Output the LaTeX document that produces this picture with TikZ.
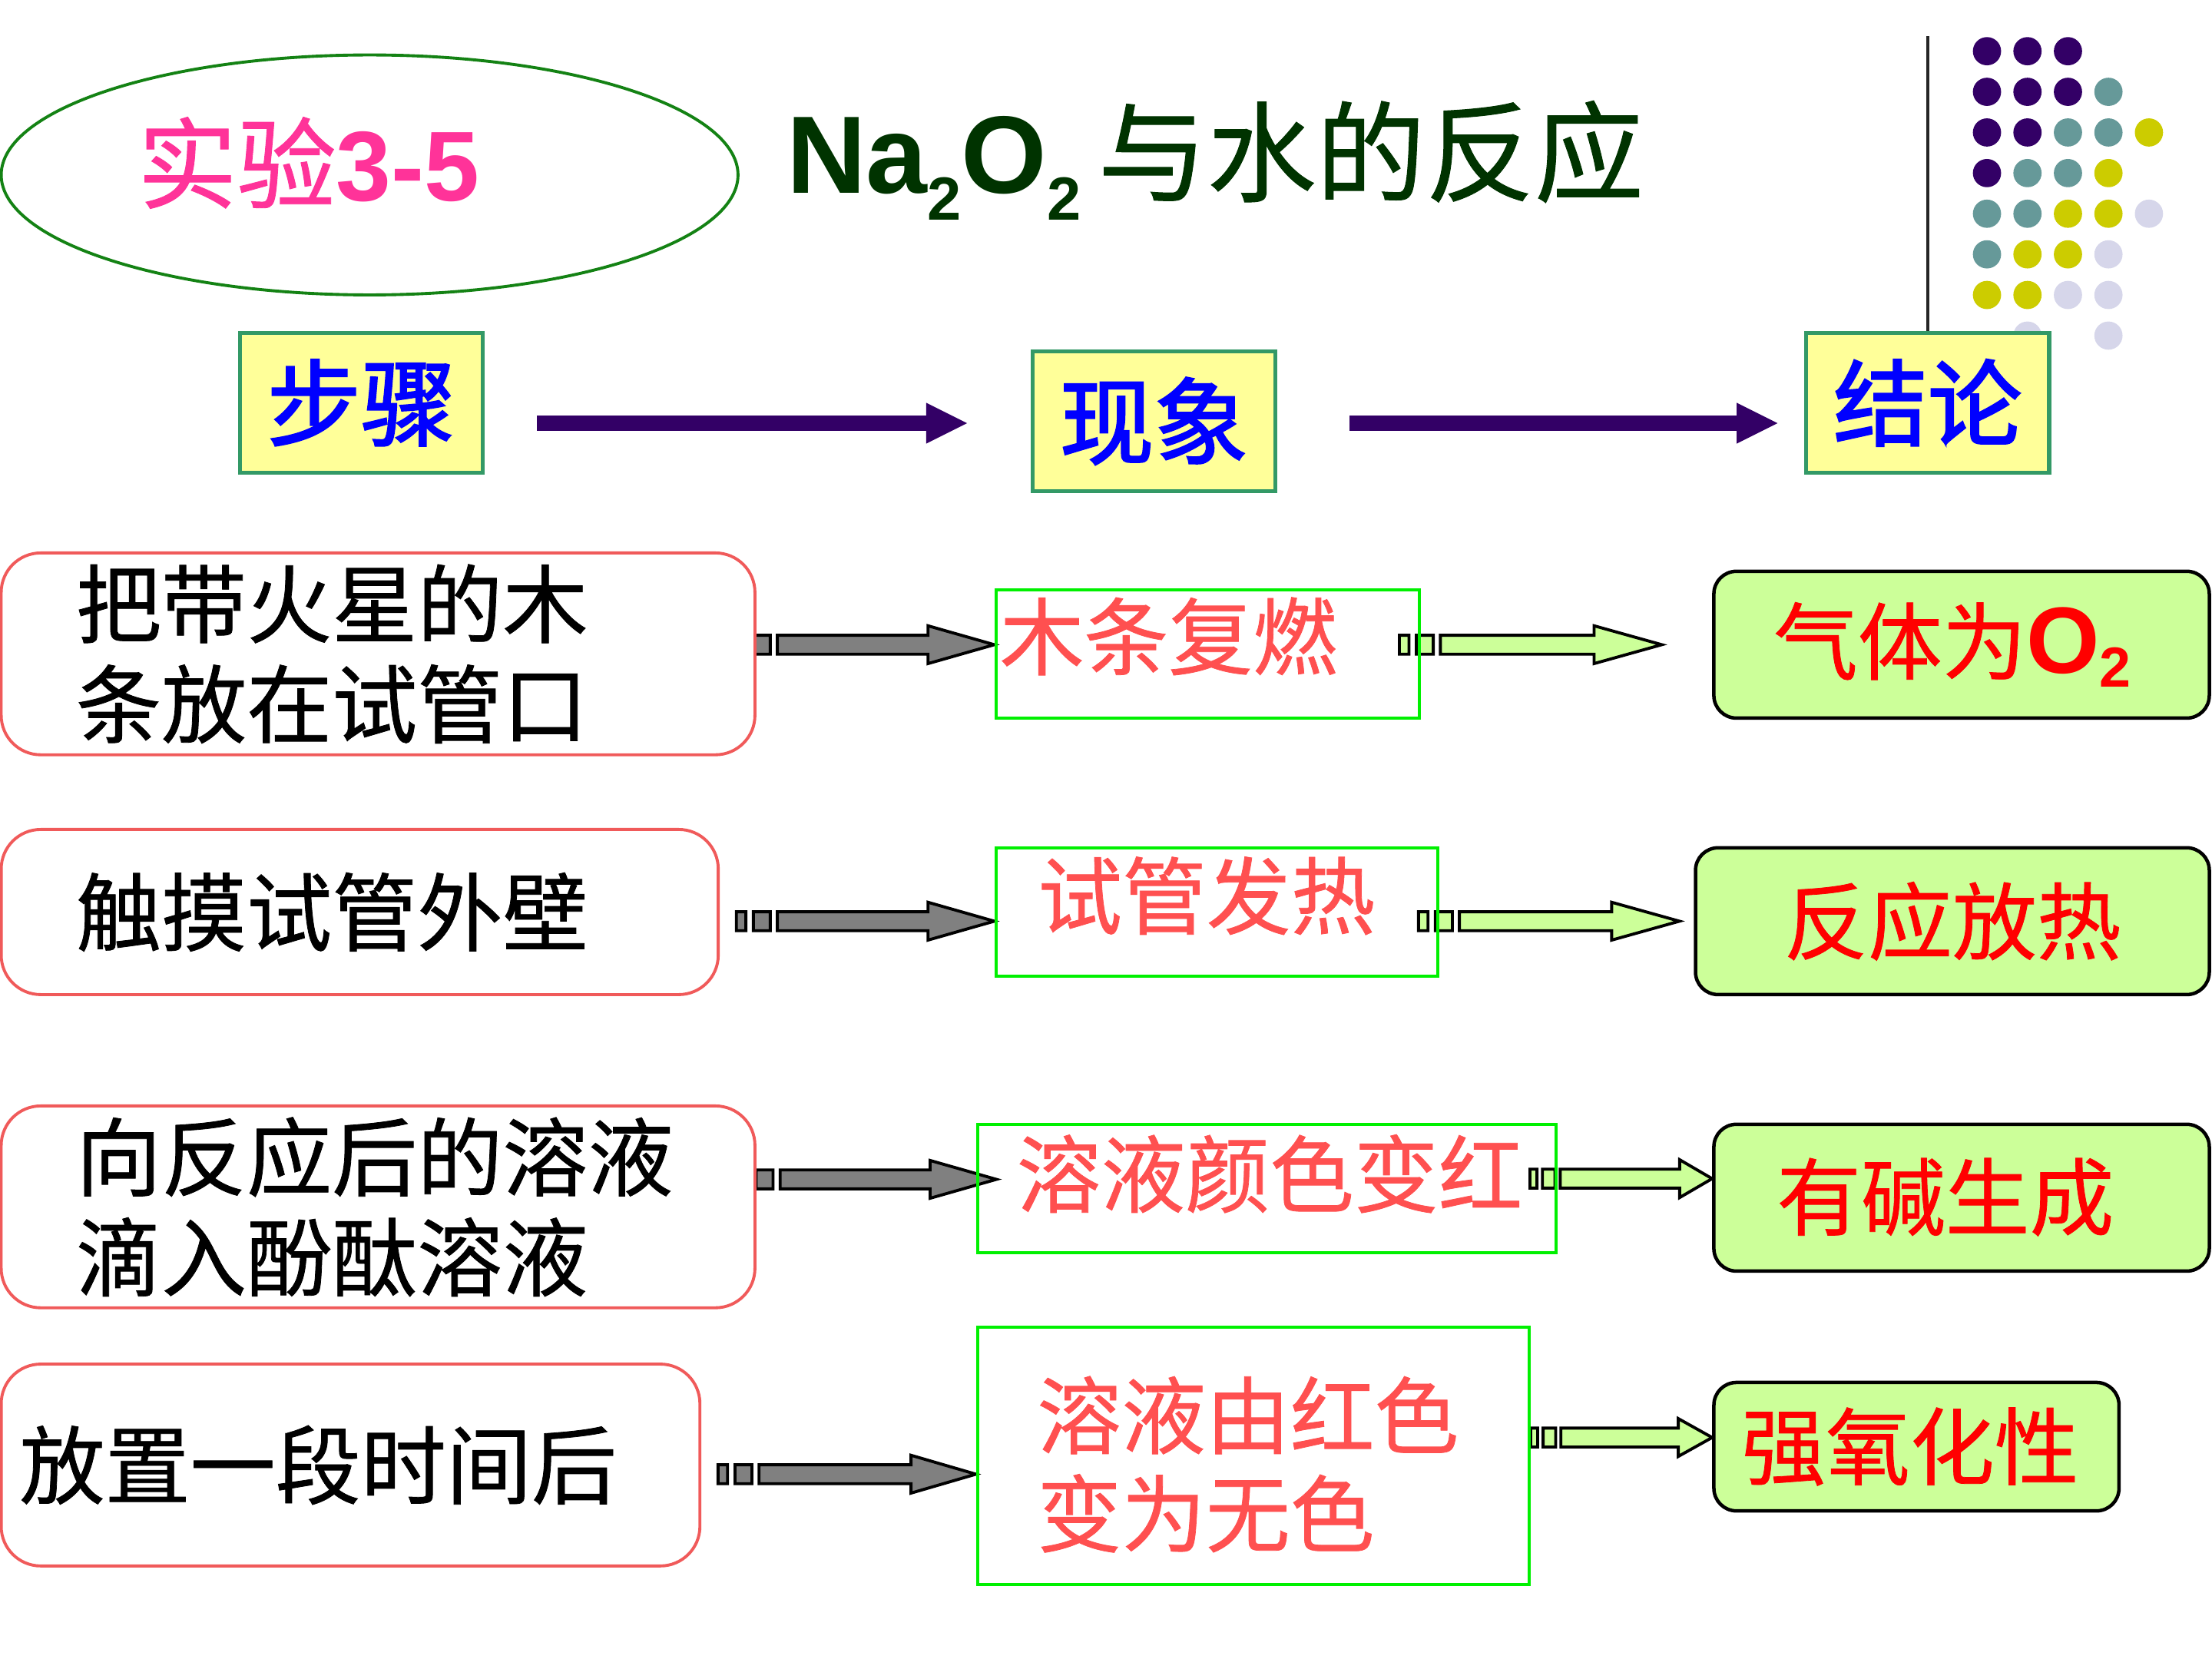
\documentclass[tikz,border=0pt]{standalone}
\usepackage{fontspec}
\setmainfont{Liberation Sans}
\newfontfamily\cjk[FakeBold=0.7]{Noto Sans CJK SC}
\newfontfamily\cjkhdr[FakeBold=2]{Noto Sans CJK SC}
\usetikzlibrary{shapes,arrows.meta,calc,backgrounds}
\definecolor{ellgreen}{RGB}{20,130,20}
\definecolor{exppink}{RGB}{255,51,153}
\definecolor{titlegreen}{RGB}{0,51,0}
\definecolor{hdrgreen}{RGB}{51,153,102}
\definecolor{hdryellow}{RGB}{255,255,153}
\definecolor{hdrblue}{RGB}{0,0,255}
\definecolor{arrowpurple}{RGB}{51,0,102}
\definecolor{stepred}{RGB}{240,90,90}
\definecolor{obsgreen}{RGB}{0,240,0}
\definecolor{obsred}{RGB}{255,80,80}
\definecolor{conclime}{RGB}{204,255,153}
\definecolor{concred}{RGB}{255,0,0}
\definecolor{arrowgray}{RGB}{128,128,128}
\definecolor{dotpurple}{RGB}{51,0,102}
\definecolor{dotteal}{RGB}{102,153,153}
\definecolor{dotyellow}{RGB}{204,204,0}
\definecolor{dotlilac}{RGB}{214,214,234}
\tikzstyle{hdrbox} = [draw=hdrgreen, fill=hdryellow, line width=0.8pt, minimum width=1.72cm, minimum height=0.99cm, text=hdrblue, font=\cjkhdr\fontsize{19pt}{22pt}\selectfont]
\tikzstyle{hdrarrow} = [line width=0.105cm, draw=arrowpurple, -{Triangle[length=0.29cm,width=0.29cm,line width=0pt]}]
\tikzstyle{stepbox} = [draw=stepred, fill=white, rounded corners=0.28cm, line width=0.6pt, align=left, inner ysep=0pt, font=\cjk\fontsize{17.2pt}{20.2pt}\selectfont]
\tikzstyle{obsbox} = [draw=obsgreen, line width=0.6pt, inner sep=0pt]
\tikzstyle{obstext} = [text=obsred, align=left, inner sep=0pt, anchor=west, font=\cjk\fontsize{17pt}{19.8pt}\selectfont]
\tikzstyle{concbox} = [draw=black, fill=conclime, rounded corners=0.16cm, line width=0.7pt, inner sep=0pt, minimum height=1.04cm, text=concred, font=\cjk\fontsize{17pt}{20pt}\selectfont]
\tikzstyle{dP} = [fill=dotpurple]
\tikzstyle{dT} = [fill=dotteal]
\tikzstyle{dY} = [fill=dotyellow]
\tikzstyle{dL} = [fill=dotlilac]
\tikzstyle{dN} = []
\newcommand{\chemsub}[3]{\raisebox{#2}{\fontsize{#1}{#1}\selectfont #3}}
\newcommand{\StripArrow}[5]{
  \draw[black, fill=#1, line width=0.6pt] let \p1=(#2), \p2=(#3) in
    (\x1,\y1-0.067cm) rectangle (\x1+1.35*#4,\y1+0.067cm)
    (\x1+2.4*#4,\y1-0.067cm) rectangle (\x1+4.8*#4,\y1+0.067cm)
    (\x1+5.8*#4,\y1-0.067cm) -- (\x2-#5,\y1-0.067cm) -- (\x2-#5,\y1-0.134cm)
    -- (\x2,\y1) -- (\x2-#5,\y1+0.134cm) -- (\x2-#5,\y1+0.067cm)
    -- (\x1+5.8*#4,\y1+0.067cm) -- cycle;
}

\begin{document}
\begin{tikzpicture}[x=0.01cm,y=-0.01cm]
  \useasboundingbox (0,0) rectangle (1568,1176);
  \foreach \cols [count=\r from 0] in {{dP,dP,dP},{dP,dP,dP,dT},{dP,dP,dT,dT,dY},{dP,dT,dT,dY},{dT,dT,dY,dY,dL},{dT,dY,dY,dL},{dY,dY,dL,dL},{dN,dL,dN,dL}}
    \foreach \k [count=\c from 0] in \cols
      \path[\k] (1408.5+28.7*\c,36.3+28.8*\r) circle [radius=0.1cm];
  \node[ellipse, draw=ellgreen, line width=0.6pt, inner sep=0pt, minimum width=5.22cm, minimum height=1.70cm] (exp) at (262,124) {};
  \node[anchor=base west, inner sep=0pt, text=exppink] (explabel) at (97,142.5) {{\cjk\fontsize{20pt}{24pt}\selectfont 实验}{\bfseries\fontsize{20pt}{24pt}\selectfont 3-5}};
  \node[anchor=base west, inner sep=0pt, text=titlegreen, font=\bfseries\fontsize{22.2pt}{26pt}\selectfont] (title) at (557,137) {Na\chemsub{12.3pt}{-5.4pt}{2}O\chemsub{12.3pt}{-5.4pt}{2}\kern0.12cm{\cjk\mdseries\fontsize{22pt}{26pt}\selectfont 与水的反应}};

  \node[hdrbox] (steps) at (256,285.5) {步骤};
  \node[hdrbox] (obs) at (818,298.5) {现象};
  \node[hdrbox] (concl) at (1366.5,285.5) {结论};
  \draw[line width=0.7pt, black!85] (concl.north) -- ++(0,-209);
  \coordinate (hrow) at (0,300);
  \draw[hdrarrow, shorten <=0.37cm, shorten >=0.45cm] (steps.east |- hrow) -- (obs.west |- hrow);
  \draw[hdrarrow, shorten <=0.51cm, shorten >=0.19cm] (obs.east |- hrow) -- (concl.west |- hrow);

  \node[stepbox, text width=4.28cm, inner xsep=0.53cm, minimum height=1.43cm] (p1) at (268,463.5) {把带火星的木\\条放在试管口};
  \node[stepbox, text width=4.02cm, inner xsep=0.53cm, minimum height=1.17cm] (p2) at (255,646.5) {触摸试管外壁};
  \node[stepbox, text width=4.28cm, inner xsep=0.53cm, minimum height=1.43cm] (p3) at (268,855.5) {向反应后的溶液\\滴入酚酞溶液};
  \node[stepbox, text width=4.69cm, inner xsep=0.13cm, minimum height=1.43cm] (p4) at (248.5,1038.5) {放置一段时间后};

  \node[obsbox, minimum width=3.00cm, minimum height=0.91cm] (m1) at (856,463.5) {};
  \node[obsbox, minimum width=3.13cm, minimum height=0.91cm] (m2) at (862.5,646.5) {};
  \node[obsbox, minimum width=4.10cm, minimum height=0.91cm] (m3) at (898,842.5) {};
  \node[obsbox, minimum width=3.91cm, minimum height=1.82cm] (m4) at (888.5,1032) {};
  \node[obstext] (m1t) at (708,451) {木条复燃};
  \node[obstext] (m2t) at (735,635) {试管发热};
  \node[obstext] (m3t) at (720,832) {溶液颜色变红};
  \node[obstext] (m4t) at (734.5,1038) {溶液由红色\\变为无色};

  \node[concbox, minimum width=3.51cm] (r1) at (1390.5,457) {\hspace*{-0.13cm}气体为{\rmfamily\bfseries\fontsize{19pt}{22pt}\selectfont O\chemsub{11.4pt}{-2.8pt}{2}}};
  \node[concbox, minimum width=3.64cm] (r2) at (1384,653) {反应放热};
  \node[concbox, minimum width=3.51cm] (r3) at (1390.5,849) {\hspace*{-0.23cm}\raisebox{0.06cm}{有碱生成}};
  \node[concbox, minimum width=2.87cm, minimum height=0.91cm] (r4) at (1358.5,1025.5) {\hspace*{-0.09cm}强氧化性};

  \coordinate (g1s) at (522,457);
  \coordinate (g2s) at (522,653);
  \coordinate (g3s) at (524,836);
  \coordinate (g4s) at (509,1045);
  \coordinate (g3e) at ($(m3.west |- g3s)+(14.5,0)$);
  \coordinate (w1s) at (992,457);
  \coordinate (w1e) at (1178,457);
  \coordinate (w2s) at (1005.5,653);
  \coordinate (w2e) at (1190.5,653);
  \coordinate (w3s) at (1084.5,835.5);
  \coordinate (w4s) at (1085,1019);
  \begin{scope}[on background layer]
    \StripArrow{arrowgray}{g1s}{m1.west |- g1s}{0.05cm}{0.47cm}
    \StripArrow{arrowgray}{g2s}{m2.west |- g2s}{0.05cm}{0.47cm}
    \StripArrow{arrowgray}{g3s}{g3e}{0.05cm}{0.47cm}
    \StripArrow{arrowgray}{g4s}{m4.west |- g4s}{0.05cm}{0.46cm}
    \StripArrow{conclime}{w1s}{w1e}{0.05cm}{0.48cm}
    \StripArrow{conclime}{w2s}{w2e}{0.05cm}{0.48cm}
    \StripArrow{conclime}{w3s}{r3.west |- w3s}{0.037cm}{0.23cm}
    \StripArrow{conclime}{w4s}{r4.west |- w4s}{0.037cm}{0.24cm}
  \end{scope}
\end{tikzpicture}
\end{document}
